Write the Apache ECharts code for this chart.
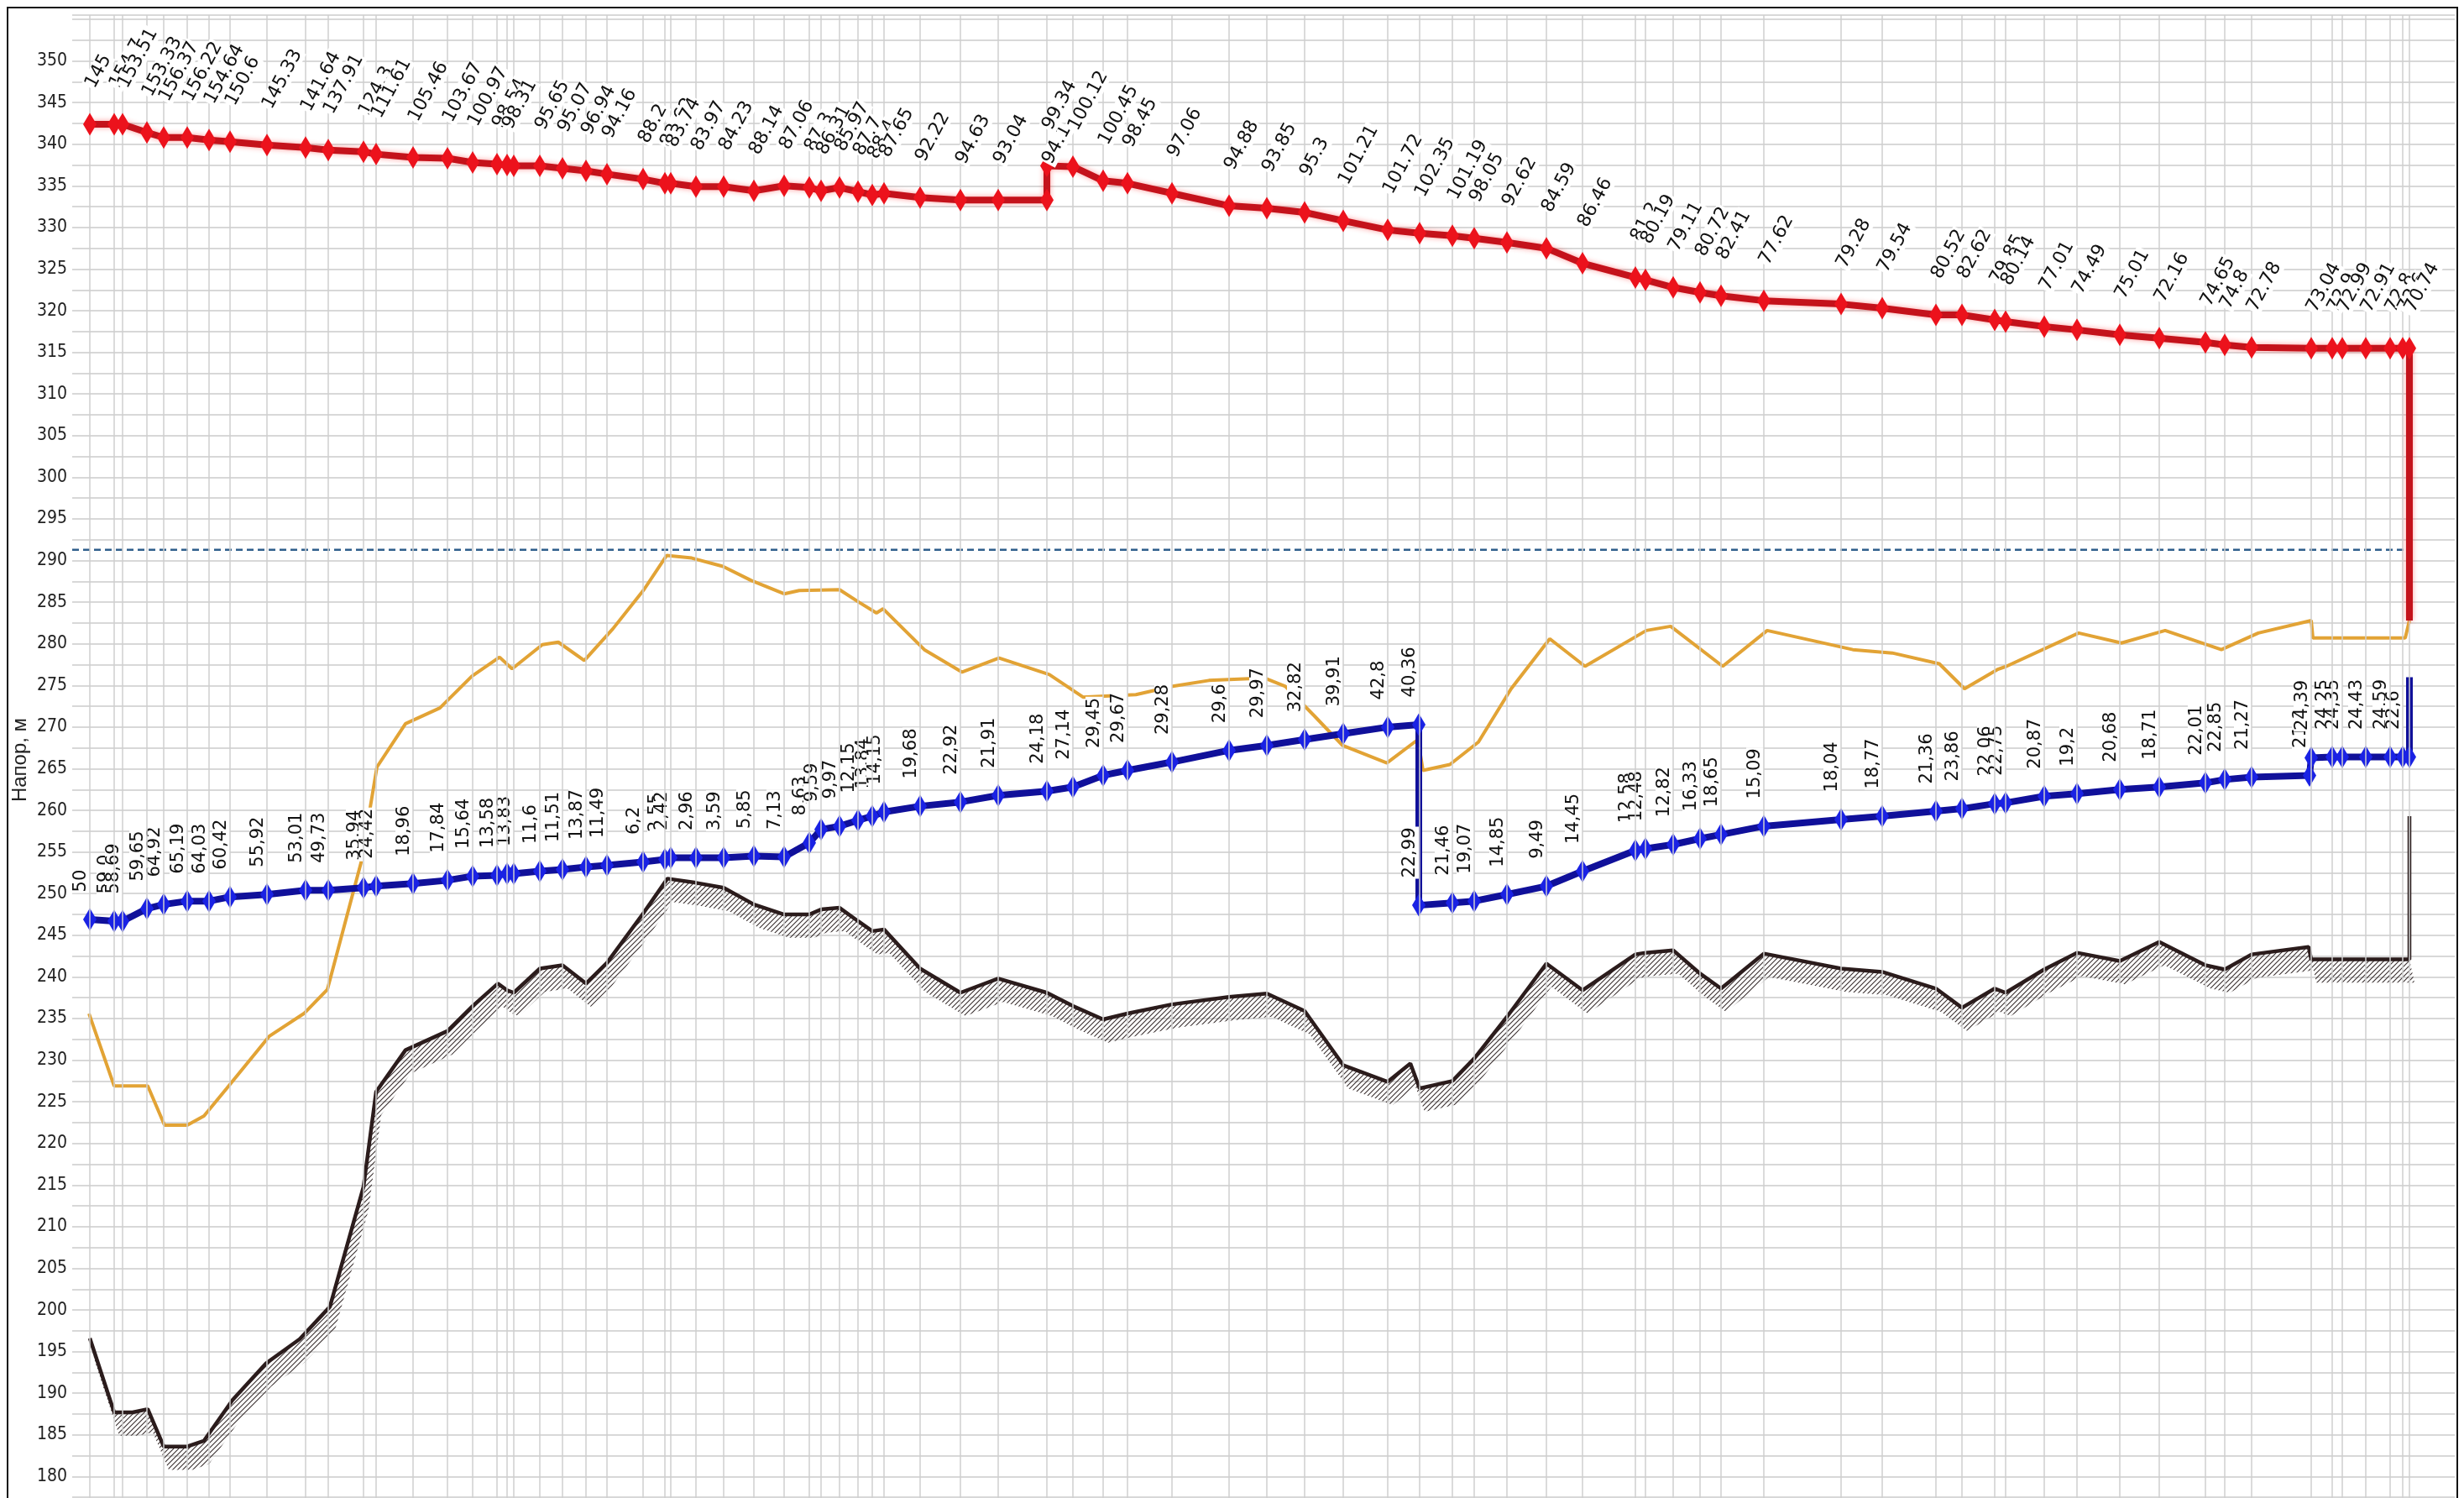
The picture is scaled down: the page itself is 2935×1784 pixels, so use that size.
<!DOCTYPE html>
<html><head><meta charset="utf-8">
<script src="https://cdn.jsdelivr.net/npm/echarts/dist/echarts.min.js"></script>
<style>html,body{margin:0;padding:0;background:#fff}#c{width:2935px;height:1784px}</style>
</head><body><div id="c"></div>
<script>
// ---- chainage of stations (distance units) and heads (m) ----
const redDist = [21, 50, 60, 89, 109, 137, 163, 188, 232, 278,
 305, 347, 362, 406, 447, 477, 506, 518, 526, 557,
 584, 612, 637, 680, 706, 713, 743, 776, 812, 848,
 878, 892, 914, 936, 953, 967, 1010, 1058, 1103, 1161,
 1161, 1192, 1228, 1257, 1310, 1378, 1423, 1468, 1514, 1567,
 1605, 1644, 1670, 1709, 1756, 1799, 1862, 1874, 1907, 1939,
 1964, 2015, 2107, 2156, 2220, 2251, 2290, 2303, 2349, 2388,
 2439, 2486, 2541, 2564, 2596, 2667, 2692, 2704, 2732, 2761,
 2776, 2784, 2784];
const redHead = [342.4, 342.4, 342.4, 341.4, 340.8, 340.8, 340.5, 340.3, 339.9, 339.6,
 339.3, 339.1, 338.8, 338.4, 338.3, 337.8, 337.6, 337.5, 337.4, 337.4,
 337.1, 336.8, 336.4, 335.8, 335.3, 335.3, 334.9, 334.9, 334.4, 335.0,
 334.8, 334.4, 334.8, 334.3, 333.9, 334.1, 333.6, 333.3, 333.3, 333.3,
 337.4, 337.3, 335.6, 335.3, 334.1, 332.6, 332.3, 331.8, 330.8, 329.7,
 329.3, 329.0, 328.7, 328.2, 327.5, 325.7, 324.0, 323.7, 322.8, 322.2,
 321.8, 321.2, 320.8, 320.3, 319.5, 319.5, 318.9, 318.7, 318.1, 317.7,
 317.1, 316.7, 316.2, 315.9, 315.6, 315.5, 315.5, 315.5, 315.5, 315.5,
 315.5, 315.5, 282.8];
const redLabels = ['145', '154.7', '153.51', '153.33', '156.37', '156.22', '154.64', '150.6', '145.33', '141.64',
 '137.91', '124.3', '111.61', '105.46', '103.67', '100.97', '98.54', '98.31', '', '95.65',
 '95.07', '96.94', '94.16', '88.2', '83.62', '83.74', '83.97', '84.23', '88.14', '87.06',
 '87.3', '86.31', '85.97', '87.7', '88.4', '87.65', '92.22', '94.63', '93.04', '94.1',
 '99.34', '100.12', '100.45', '98.45', '97.06', '94.88', '93.85', '95.3', '101.21', '101.72',
 '102.35', '101.19', '98.05', '92.62', '84.59', '86.46', '81.2', '80.19', '79.11', '80.72',
 '82.41', '77.62', '79.28', '79.54', '80.52', '82.62', '79.85', '80.14', '77.01', '74.49',
 '75.01', '72.16', '74.65', '74.8', '72.78', '73.04', '72.9', '72.99', '72.91', '72.8',
 '72.6', '70.74', ''];
const redNoMarker = [82];

const blueDist = [21, 50, 60, 89, 109, 137, 163, 188, 232, 278,
 305, 347, 362, 406, 447, 477, 506, 518, 526, 557,
 584, 612, 637, 680, 706, 713, 743, 776, 812, 848,
 878, 892, 914, 936, 953, 967, 1010, 1058, 1103, 1161,
 1192, 1228, 1257, 1310, 1378, 1423, 1468, 1514, 1567, 1604,
 1604, 1644, 1670, 1709, 1756, 1799, 1862, 1874, 1907, 1939,
 1964, 2015, 2107, 2156, 2220, 2251, 2290, 2303, 2349, 2388,
 2439, 2486, 2541, 2564, 2596, 2665, 2667, 2692, 2704, 2732,
 2761, 2776, 2784, 2784];
const blueHead = [246.9, 246.7, 246.7, 248.2, 248.7, 249.1, 249.1, 249.6, 249.9, 250.4,
 250.4, 250.7, 250.9, 251.2, 251.6, 252.1, 252.2, 252.4, 252.4, 252.7,
 252.9, 253.2, 253.4, 253.8, 254.1, 254.3, 254.3, 254.3, 254.5, 254.4,
 256.1, 257.7, 258.1, 258.8, 259.3, 259.8, 260.5, 261.0, 261.8, 262.3,
 262.8, 264.2, 264.8, 265.8, 267.2, 267.8, 268.5, 269.2, 270.0, 270.3,
 248.6, 248.9, 249.1, 249.9, 250.9, 252.7, 255.2, 255.4, 255.9, 256.6,
 257.1, 258.1, 258.9, 259.3, 259.9, 260.2, 260.8, 260.9, 261.7, 262.0,
 262.5, 262.8, 263.3, 263.7, 264.0, 264.2, 266.3, 266.4, 266.4, 266.4,
 266.4, 266.4, 266.4, 276.0];
const blueLabels = ['50', '59,0', '58,69', '59,65', '64,92', '65,19', '64,03', '60,42', '55,92', '53,01',
 '49,73', '35,94', '24,42', '18,96', '17,84', '15,64', '13,58', '', '13,83', '11,6',
 '11,51', '13,87', '11,49', '6,2', '2,55', '2,42', '2,96', '3,59', '5,85', '7,13',
 '8,63', '9,59', '9,97', '12,15', '13,84', '14,15', '19,68', '22,92', '21,91', '24,18',
 '27,14', '29,45', '29,67', '29,28', '29,6', '29,97', '32,82', '39,91', '42,8', '40,36',
 '22,99', '21,46', '19,07', '14,85', '9,49', '14,45', '12,58', '12,48', '12,82', '16,33',
 '18,65', '15,09', '18,04', '18,77', '21,36', '23,86', '22,06', '22,75', '20,87', '19,2',
 '20,68', '18,71', '22,01', '22,85', '21,27', '21,8', '24,39', '24,25', '24,35', '24,43',
 '24,59', '22,6', '', ''];
const blueNoMarker = [83];

const groundDist = [21, 50, 72, 90, 109, 137, 157, 191, 231, 271,
 307, 347, 362, 397, 447, 477, 507, 518, 526, 557,
 584, 612, 637, 680, 709, 743, 776, 812, 848, 878,
 892, 914, 936, 953, 967, 1010, 1058, 1103, 1161, 1192,
 1228, 1257, 1310, 1378, 1423, 1468, 1514, 1567, 1594, 1605,
 1644, 1670, 1709, 1756, 1799, 1862, 1874, 1907, 1939, 1964,
 2015, 2107, 2156, 2220, 2251, 2290, 2303, 2349, 2388, 2439,
 2486, 2541, 2564, 2596, 2664, 2667, 2784, 2784];
const groundHead = [196.6, 187.7, 187.7, 188.1, 183.6, 183.6, 184.3, 189.2, 193.6, 196.5,
 200.4, 214.8, 226.2, 231.2, 233.5, 236.5, 239.2, 238.4, 238.1, 241.0,
 241.4, 239.2, 241.7, 247.6, 251.8, 251.3, 250.7, 248.7, 247.5, 247.5,
 248.1, 248.3, 246.7, 245.5, 245.7, 241.0, 238.1, 239.8, 238.1, 236.5,
 234.9, 235.6, 236.7, 237.6, 238.0, 235.9, 229.4, 227.4, 229.6, 226.6,
 227.5, 230.2, 235.2, 241.6, 238.4, 242.7, 242.9, 243.2, 240.4, 238.6,
 242.8, 241.0, 240.6, 238.6, 236.3, 238.6, 238.1, 240.9, 242.9, 241.9,
 244.2, 241.4, 240.9, 242.7, 243.6, 242.1, 242.1, 259.3];

const orangeDist = [20, 50, 90, 110, 137, 157, 184, 235, 276, 304,
 344, 363, 397, 438, 476, 509, 524, 560, 579, 610,
 644, 681, 708, 738, 775, 809, 848, 866, 914, 937,
 958, 966, 1015, 1060, 1104, 1164, 1204, 1267, 1311, 1354,
 1420, 1445, 1480, 1513, 1566, 1603, 1609, 1641, 1675, 1714,
 1760, 1802, 1875, 1904, 1966, 2019, 2121, 2168, 2224, 2254,
 2293, 2304, 2390, 2441, 2493, 2560, 2604, 2667, 2669, 2779,
 2784];
const orangeHead = [235.6, 226.9, 226.9, 222.2, 222.2, 223.3, 226.6, 232.9, 235.6, 238.5,
 253.7, 265.2, 270.4, 272.3, 276.1, 278.4, 277.0, 279.9, 280.2, 278.0,
 281.8, 286.5, 290.6, 290.3, 289.3, 287.6, 286.0, 286.4, 286.5, 285.0,
 283.7, 284.2, 279.3, 276.6, 278.3, 276.3, 273.6, 273.9, 274.9, 275.6,
 275.9, 274.9, 271.3, 267.8, 265.7, 268.5, 264.8, 265.5, 268.2, 274.6,
 280.6, 277.3, 281.6, 282.1, 277.3, 281.6, 279.3, 278.9, 277.6, 274.6,
 276.9, 277.3, 281.3, 280.1, 281.6, 279.3, 281.3, 282.8, 280.7, 280.7,
 282.8];

const dashedDist = [0, 2784];
const dashedHead = [291.3, 291.3];

const yMin = 175, yMax = 355.5, yStep = 5, yLabelMin = 180, yLabelMax = 350;
const xMin = 0, xMax = 2838;
const yTitle = 'Напор, м';

// ---- hatch pattern ----
const pc = document.createElement('canvas');
pc.width = 6; pc.height = 6;
const g = pc.getContext('2d');
g.strokeStyle = '#3a3030'; g.lineWidth = 1.1;
g.beginPath();
g.moveTo(0, 6); g.lineTo(6, 0);
g.moveTo(-1, 1); g.lineTo(1, -1);
g.moveTo(5, 7); g.lineTo(7, 5);
g.stroke();
const hatchFill = {image: pc, repeat: 'repeat'};

const FONT = '"Liberation Sans", Arial, sans-serif';
const LBL = '"DejaVu Sans", "Liberation Sans", sans-serif';
const NARROW = '"Liberation Sans Narrow", "DejaVu Sans Condensed", "Liberation Sans", sans-serif';

function buildData(dist, head, labels, noMarker) {
  return dist.map((d, i) => {
    const item = {value: [d, head[i]]};
    if (noMarker.indexOf(i) >= 0) item.symbol = 'none';
    if (!labels[i]) item.label = {show: false};
    return item;
  });
}

const chart = echarts.init(document.getElementById('c'), null, {renderer: 'canvas'});
const hatchCount = groundDist.length - 1;
const stationLines = [];
redDist.forEach(d => { if (stationLines.indexOf(d) < 0) stationLines.push(d); });

chart.setOption({
  animation: false,
  backgroundColor: '#ffffff',
  grid: {left: 86, top: 18, width: 2838, height: 1790, outerBoundsMode: 'none', containLabel: false},
  xAxis: {type: 'value', min: xMin, max: xMax, show: false},
  yAxis: {
    type: 'value', min: yMin, max: yMax, interval: yStep,
    axisLine: {show: false}, axisTick: {show: false},
    axisLabel: {
      margin: 6, fontSize: 21, color: '#222', fontFamily: NARROW,
      formatter: v => (v % 5 === 0 && v >= yLabelMin && v <= yLabelMax) ? String(v) : ''
    },
    splitLine: {show: true, lineStyle: {color: '#d8d8d8', width: 2}},
    minorTick: {show: false, splitNumber: 2},
    minorSplitLine: {show: true, lineStyle: {color: '#d8d8d8', width: 2}}
  },
  graphic: [
    {type: 'rect', shape: {x: 9, y: 9, width: 2918, height: 1800}, style: {fill: null, stroke: '#111', lineWidth: 2}, z: 100, silent: true},
    {type: 'text', x: 24, y: 905, rotation: Math.PI / 2,
     style: {text: yTitle, font: '24px ' + FONT, fill: '#222', textAlign: 'center', textVerticalAlign: 'middle'}}
  ],
  series: [
    { // station vertical grid lines
      type: 'line', name: 'stations', data: [], silent: true, z: 0,
      markLine: {
        silent: true, symbol: ['none', 'none'], label: {show: false},
        lineStyle: {color: '#cfcfcf', width: 1.5, type: 'solid'},
        data: stationLines.map(d => ({xAxis: d}))
      }
    },
    { // hatched band under the profile
      type: 'custom', name: 'hatch', z: 1, silent: true,
      data: [[groundDist[0], groundHead[0]]],
      renderItem: function (params, api) {
        const top = [], bot = [];
        for (let i = 0; i < hatchCount; i++) {
          top.push(api.coord([groundDist[i], groundHead[i]]));
          const q = api.coord([groundDist[i], groundHead[i] - 2.8]);
          bot.push([q[0] + 6, q[1]]);
        }
        return {type: 'polygon', shape: {points: top.concat(bot.reverse())}, style: {fill: hatchFill, stroke: null}};
      }
    },
    { // pipe / ground profile
      type: 'line', name: 'profile', z: 2,
      data: groundDist.map((d, i) => [d, groundHead[i]]),
      symbol: 'none', lineStyle: {color: '#2b1c1c', width: 4.5}
    },
    {
      type: 'line', name: 'orange', z: 3,
      data: orangeDist.map((d, i) => [d, orangeHead[i]]),
      symbol: 'none', lineStyle: {color: '#e2a335', width: 4}
    },
    {
      type: 'line', name: 'level', z: 3, silent: true,
      data: dashedDist.map((d, i) => [d, dashedHead[i]]),
      symbol: 'none', lineStyle: {color: '#2f5f8c', width: 2.5, type: [8, 5]}
    },
    {
      type: 'line', name: 'blue', z: 4,
      data: buildData(blueDist, blueHead, blueLabels, blueNoMarker),
      symbol: 'diamond', symbolSize: [16, 27],
      lineStyle: {color: '#10109a', width: 8},
      itemStyle: {color: '#1a22e4', borderWidth: 0},
      label: {
        show: true, position: 'top', distance: 18, rotate: 90,
        align: 'left', verticalAlign: 'bottom',
        fontSize: 21, fontFamily: LBL, color: '#111',
        backgroundColor: '#ffffff', padding: [0, 1],
        formatter: p => blueLabels[p.dataIndex]
      }
    },
    {
      type: 'line', name: 'red', z: 5,
      data: buildData(redDist, redHead, redLabels, redNoMarker),
      symbol: 'diamond', symbolSize: [16, 27],
      lineStyle: {color: '#c4121b', width: 8, shadowColor: 'rgba(255,40,40,0.45)', shadowBlur: 6},
      itemStyle: {color: '#ec121c', borderWidth: 0},
      label: {
        show: true, position: 'top', distance: 30, rotate: 62,
        align: 'left', verticalAlign: 'middle',
        fontSize: 22, fontFamily: LBL, color: '#111',
        backgroundColor: '#ffffff', padding: [0, 1],
        formatter: p => redLabels[p.dataIndex]
      }
    }
  ]
});
</script></body></html>
